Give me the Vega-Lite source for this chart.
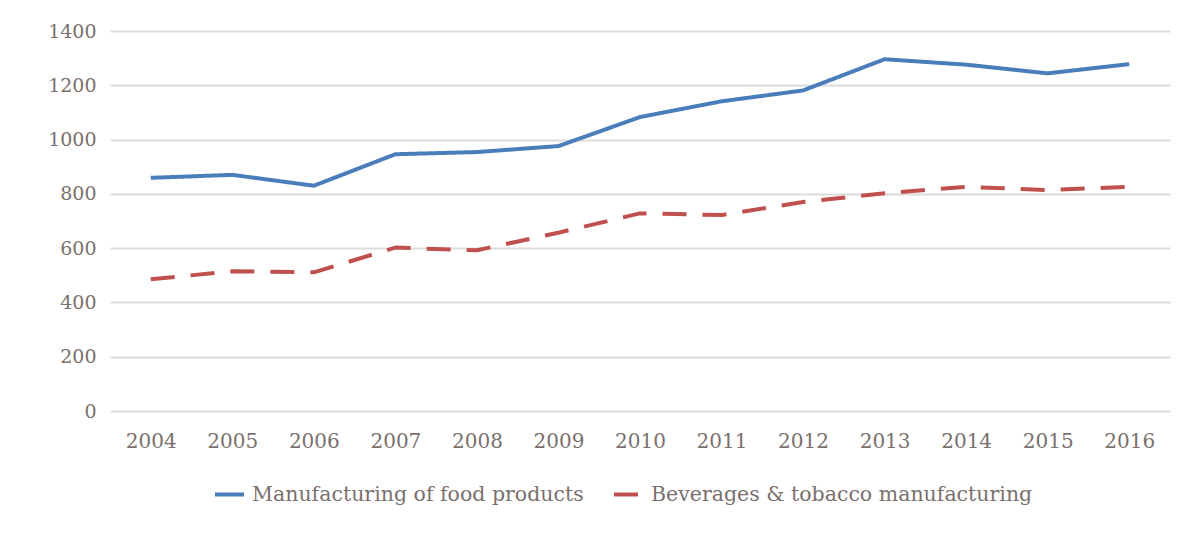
{
  "$schema": "https://vega.github.io/schema/vega-lite/v6.json",
  "width": 1060,
  "height": 380,
  "autosize": {"type": "none"},
  "padding": {"left": 110, "top": 31, "right": 30, "bottom": 122},
  "background": "#ffffff",
  "config": {
    "view": {"stroke": null},
    "font": "DejaVu Serif"
  },
  "data": {
    "values": [
      {"year": "2004", "series": "Manufacturing of food products", "value": 859},
      {"year": "2005", "series": "Manufacturing of food products", "value": 870},
      {"year": "2006", "series": "Manufacturing of food products", "value": 830},
      {"year": "2007", "series": "Manufacturing of food products", "value": 946},
      {"year": "2008", "series": "Manufacturing of food products", "value": 954},
      {"year": "2009", "series": "Manufacturing of food products", "value": 976},
      {"year": "2010", "series": "Manufacturing of food products", "value": 1083},
      {"year": "2011", "series": "Manufacturing of food products", "value": 1141},
      {"year": "2012", "series": "Manufacturing of food products", "value": 1181},
      {"year": "2013", "series": "Manufacturing of food products", "value": 1296},
      {"year": "2014", "series": "Manufacturing of food products", "value": 1276},
      {"year": "2015", "series": "Manufacturing of food products", "value": 1244},
      {"year": "2016", "series": "Manufacturing of food products", "value": 1278},
      {"year": "2004", "series": "Beverages & tobacco manufacturing", "value": 485},
      {"year": "2005", "series": "Beverages & tobacco manufacturing", "value": 515},
      {"year": "2006", "series": "Beverages & tobacco manufacturing", "value": 511},
      {"year": "2007", "series": "Beverages & tobacco manufacturing", "value": 602},
      {"year": "2008", "series": "Beverages & tobacco manufacturing", "value": 592},
      {"year": "2009", "series": "Beverages & tobacco manufacturing", "value": 657},
      {"year": "2010", "series": "Beverages & tobacco manufacturing", "value": 728},
      {"year": "2011", "series": "Beverages & tobacco manufacturing", "value": 722},
      {"year": "2012", "series": "Beverages & tobacco manufacturing", "value": 770},
      {"year": "2013", "series": "Beverages & tobacco manufacturing", "value": 802},
      {"year": "2014", "series": "Beverages & tobacco manufacturing", "value": 826},
      {"year": "2015", "series": "Beverages & tobacco manufacturing", "value": 814},
      {"year": "2016", "series": "Beverages & tobacco manufacturing", "value": 826}
    ]
  },
  "mark": {"type": "line", "strokeWidth": 4, "strokeCap": "butt", "strokeJoin": "round"},
  "encoding": {
    "x": {
      "field": "year",
      "type": "ordinal",
      "scale": {"type": "point", "padding": 0.5},
      "axis": {
        "title": null,
        "labelAngle": 0,
        "domain": false,
        "ticks": false,
        "labelPadding": 20,
        "labelFontSize": 20,
        "labelColor": "#7a706d",
        "labelFont": "DejaVu Serif"
      }
    },
    "y": {
      "field": "value",
      "type": "quantitative",
      "scale": {"domain": [0, 1400], "nice": false},
      "axis": {
        "title": null,
        "values": [0, 200, 400, 600, 800, 1000, 1200, 1400],
        "format": "d",
        "domain": false,
        "ticks": false,
        "grid": true,
        "gridColor": "#dcdcdc",
        "gridWidth": 2,
        "labelPadding": 14,
        "labelFontSize": 19,
        "labelColor": "#7a706d",
        "labelFont": "DejaVu Serif"
      }
    },
    "color": {
      "field": "series",
      "type": "nominal",
      "scale": {
        "domain": ["Manufacturing of food products", "Beverages & tobacco manufacturing"],
        "range": ["#4a7ebb", "#c0504d"]
      },
      "legend": {
        "title": null,
        "orient": "none",
        "direction": "horizontal",
        "legendX": 103,
        "legendY": 447,
        "symbolType": "stroke",
        "symbolSize": 841,
        "symbolStrokeWidth": 4,
        "labelFontSize": 20.5,
        "labelColor": "#7a706d",
        "labelFont": "DejaVu Serif",
        "labelLimit": 600,
        "columnPadding": 22,
        "labelOffset": 6
      }
    },
    "strokeDash": {
      "field": "series",
      "type": "nominal",
      "scale": {
        "domain": ["Manufacturing of food products", "Beverages & tobacco manufacturing"],
        "range": [[1, 0], [24, 16]]
      },
      "legend": null
    }
  }
}
